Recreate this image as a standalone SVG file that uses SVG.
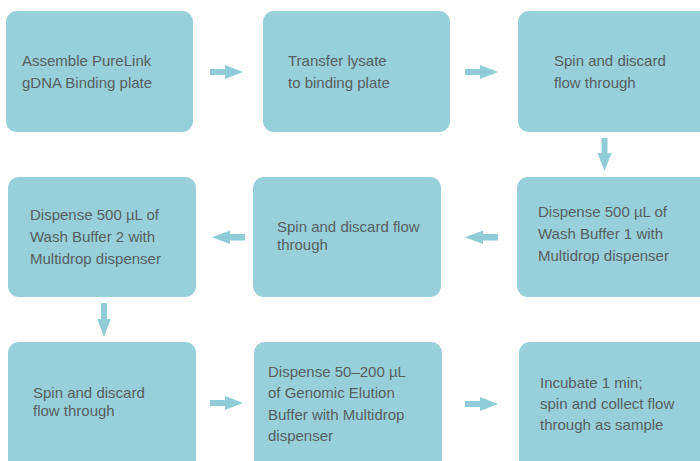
<svg xmlns="http://www.w3.org/2000/svg" width="700" height="461" viewBox="0 0 700 461">
<style>
.box{fill:#97CFDA;}
.t{font-family:"Liberation Sans",Arial,sans-serif;font-size:15px;fill:#575F62;}
.arr{fill:#8FCCD8;}
</style>
<rect width="700" height="461" fill="#ffffff"/>
<g id="node1"><rect class="box" x="6" y="11" width="187" height="121" rx="11"/>
<text class="t" x="22" y="66">Assemble PureLink</text><text class="t" x="22" y="88">gDNA Binding plate</text></g>
<g id="node2"><rect class="box" x="263" y="11" width="187" height="121" rx="11"/>
<text class="t" x="288" y="66">Transfer lysate</text><text class="t" x="288" y="88">to binding plate</text></g>
<g id="node3"><rect class="box" x="518" y="11" width="200" height="121" rx="11"/>
<text class="t" x="554" y="66">Spin and discard</text><text class="t" x="554" y="88">flow through</text></g>
<g id="node4"><rect class="box" x="517" y="177" width="200" height="120" rx="11"/>
<text class="t" x="538" y="217">Dispense 500 µL of</text><text class="t" x="538" y="239">Wash Buffer 1 with</text><text class="t" x="538" y="261">Multidrop dispenser</text></g>
<g id="node5"><rect class="box" x="253" y="177" width="188" height="120" rx="11"/>
<text class="t" x="277" y="232">Spin and discard flow</text><text class="t" x="277" y="250">through</text></g>
<g id="node6"><rect class="box" x="8" y="177" width="188" height="120" rx="11"/>
<text class="t" x="30" y="220">Dispense 500 µL of</text><text class="t" x="30" y="242">Wash Buffer 2 with</text><text class="t" x="30" y="264">Multidrop dispenser</text></g>
<g id="node7"><rect class="box" x="8" y="342" width="188" height="135" rx="11"/>
<text class="t" x="33" y="398">Spin and discard</text><text class="t" x="33" y="416">flow through</text></g>
<g id="node8"><rect class="box" x="254" y="342" width="188" height="135" rx="11"/>
<text class="t" x="268" y="377">Dispense 50–200 µL</text><text class="t" x="268" y="398">of Genomic Elution</text><text class="t" x="268" y="420">Buffer with Multidrop</text><text class="t" x="268" y="441">dispenser</text></g>
<g id="node9"><rect class="box" x="519" y="342" width="200" height="135" rx="11"/>
<text class="t" x="540" y="388">Incubate 1 min;</text><text class="t" x="540" y="409">spin and collect flow</text><text class="t" x="540" y="430">through as sample</text></g>
<g id="connectors">
<path class="arr" d="M210 69 H225 V65 L243 72 L225 79 V75 H210 Z"/>
<path class="arr" d="M465 69 H480 V65 L498 72 L480 79 V75 H465 Z"/>
<path class="arr" d="M601.5 138 V153 H597.5 L604.5 171 L611.5 153 H607.5 V138 Z"/>
<path class="arr" d="M498 234 H483 V230.5 L465 237.3 L483 244 V240.5 H498 Z"/>
<path class="arr" d="M245 234 H230 V230.5 L212 237.3 L230 244 V240.5 H245 Z"/>
<path class="arr" d="M101 303 V319 H97.3 L104 337 L110.7 319 H107 V303 Z"/>
<path class="arr" d="M210 400 H225 V396 L243 403 L225 410 V406 H210 Z"/>
<path class="arr" d="M465 401 H480 V397 L498 404 L480 411 V407 H465 Z"/>
</g>
</svg>
